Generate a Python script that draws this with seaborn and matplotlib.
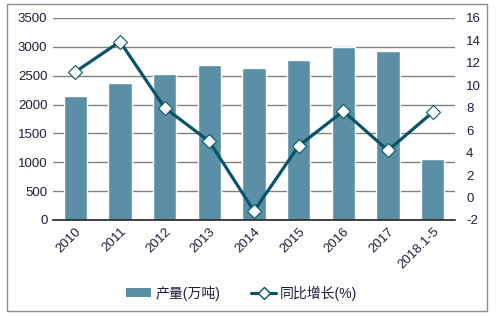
import matplotlib
matplotlib.use("Agg")
import matplotlib.pyplot as plt
import seaborn as sns
import pandas as pd
import numpy as np
from matplotlib.patches import Patch, Rectangle
from matplotlib.lines import Line2D

categories = ["2010", "2011", "2012", "2013", "2014", "2015", "2016", "2017", "2018.1-5"]
output = [2150, 2380, 2530, 2690, 2640, 2780, 3000, 2930, 1060]
growth = [11.2, 13.9, 8.0, 5.0, -1.2, 4.6, 7.7, 4.2, 7.6]
left_ticks = [0, 500, 1000, 1500, 2000, 2500, 3000, 3500]
right_ticks = [-2, 0, 2, 4, 6, 8, 10, 12, 14, 16]
bar_label = "产量(万吨)"
line_label = "同比增长(%)"

sns.set_theme(style="white")
plt.rcParams['font.family'] = ['Liberation Sans', 'Noto Sans CJK SC', 'DejaVu Sans']
plt.rcParams['axes.unicode_minus'] = False

bar_color = "#5B8FA6"
line_color = "#0B5468"

df = pd.DataFrame({"cat": categories, "output": output, "growth": growth})

fig = plt.figure(figsize=(5.02, 3.16), dpi=100)
W, H = 502, 316
ax = fig.add_axes([53 / W, 1 - 220 / H, (455 - 53) / W, (220 - 18) / H])

sns.barplot(data=df, x="cat", y="output", color=bar_color, width=0.52,
            saturation=1, ax=ax, zorder=2)
ax.set_ylim(0, 3500)
ax.set_yticks(left_ticks)
ax.yaxis.grid(True, color="#808080", linewidth=1)
ax.set_axisbelow(True)
ax.set_xlabel("")
ax.set_ylabel("")
for s in ["top", "right", "left"]:
    ax.spines[s].set_visible(False)
ax.spines["bottom"].set_color("#222222")
ax.spines["bottom"].set_linewidth(1.2)
ax.spines["bottom"].set_zorder(5)
ax.tick_params(axis="both", length=0, labelsize=9.5, labelcolor="#1e1e3c", pad=4)
for lbl in ax.get_xticklabels():
    lbl.set_rotation(45)
    lbl.set_ha("right")
    lbl.set_rotation_mode("anchor")
ax.set_xlim(-0.5, len(categories) - 0.5)

ax2 = ax.twinx()
xs = np.arange(len(categories))
sns.lineplot(x=xs, y=df["growth"], color=line_color, linewidth=2.3, ax=ax2,
             marker="D", markersize=7, markerfacecolor="white",
             markeredgecolor=line_color, markeredgewidth=0.8, zorder=4)
ax2.set_ylim(-2, 16)
ax2.set_yticks(right_ticks)
ax2.set_ylabel("")
for s in ["top", "right", "left", "bottom"]:
    ax2.spines[s].set_visible(False)
ax2.tick_params(axis="y", length=0, labelsize=9.5, labelcolor="#1e1e3c", pad=8)
ax2.set_xlim(-0.5, len(categories) - 0.5)

handles = [
    Patch(facecolor=bar_color, edgecolor="none"),
    Line2D([0], [0], color=line_color, linewidth=2.3, marker="D", markersize=6,
           markerfacecolor="white", markeredgecolor=line_color),
]
fig.legend(handles, [bar_label, line_label], loc="center",
           bbox_to_anchor=(0.482, 1 - 293 / H), ncol=2, frameon=False,
           fontsize=10, handlelength=1.8, handleheight=0.6, columnspacing=2.2,
           handletextpad=0.3, labelcolor="#1e1e3c")

fig.patches.append(Rectangle((7 / W, 1 - 311 / H), (487 - 7) / W, (311 - 4) / H,
                             transform=fig.transFigure, fill=False,
                             edgecolor="#8c8c8c", linewidth=1))

fig.savefig("out.png", dpi=100)
